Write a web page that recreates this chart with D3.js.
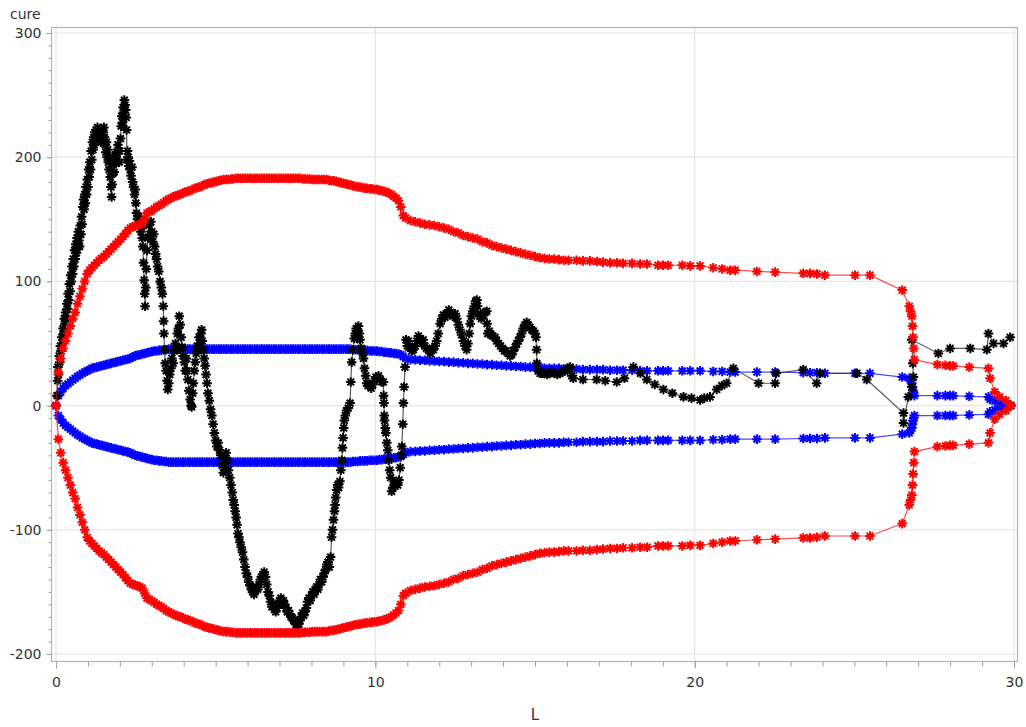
<!DOCTYPE html>
<html><head><meta charset="utf-8">
<script src="https://cdn.jsdelivr.net/npm/d3@7"></script>
<style>body{margin:0;background:#fff;} svg{display:block;font-family:"DejaVu Sans",sans-serif;}</style>
</head><body><svg id="chart" width="1026" height="727"></svg>
<script>
// ---------- data ----------
const xTicks = [0, 10, 20, 30];
const yTicks = [-200, -100, 0, 100, 200, 300];
const xLabel = "L";
const yLabel = "cure";

// shared L positions for the red and blue bands
const bandL = [
 0,0.075,0.15,0.225,0.3,0.375,0.45,0.525,0.6,0.675,
 0.75,0.825,0.9,0.975,1.05,1.125,1.2,1.275,1.35,1.425,
 1.5,1.575,1.65,1.725,1.8,1.875,1.95,2.025,2.1,2.175,
 2.25,2.325,2.4,2.475,2.55,2.625,2.7,2.775,2.85,2.925,
 3,3.075,3.15,3.225,3.3,3.375,3.45,3.525,3.6,3.675,
 3.75,3.825,3.9,3.975,4.05,4.125,4.2,4.275,4.35,4.425,
 4.5,4.575,4.65,4.725,4.8,4.875,4.95,5.025,5.1,5.175,
 5.25,5.325,5.4,5.475,5.55,5.625,5.7,5.775,5.85,5.925,
 6,6.075,6.15,6.225,6.3,6.375,6.45,6.525,6.6,6.675,
 6.75,6.825,6.9,6.975,7.05,7.125,7.2,7.275,7.35,7.425,
 7.5,7.575,7.65,7.725,7.8,7.875,7.95,8.025,8.1,8.175,
 8.25,8.325,8.4,8.475,8.55,8.625,8.7,8.775,8.85,8.925,
 9,9.075,9.15,9.225,9.3,9.375,9.45,9.525,9.6,9.675,
 9.75,9.825,9.9,9.975,10.05,10.125,10.2,10.275,10.35,10.425,
 10.5,10.575,10.65,10.725,10.8,10.875,10.95,
 11.1,11.25,11.4,11.55,11.7,11.85,12,12.15,12.3,12.45,
 12.6,12.75,12.9,13.05,13.2,13.35,13.5,13.65,13.8,13.95,
 14.1,14.25,14.4,14.55,14.7,14.85,15,15.15,15.3,15.45,
 15.6,15.75,15.9,16.05,
 16.3,16.5,16.72,16.94,17.13,17.35,17.57,17.76,18.04,18.29,
 18.51,18.85,19.01,19.17,19.61,19.86,20.17,20.58,20.86,21.11,
 21.27,21.95,22.52,23.4,23.61,23.83,24.08,25.02,25.49,26.5,
 26.72,26.76,26.8,26.82,26.84,26.86,26.88,
 27.6,27.85,28,28.1,28.6,29.2,29.25,29.4,29.55,29.75,29.9
];
const redUpper = [
 0,27,38,46,52,58,64,70,75,82,
 88,94,100,106,109,111,113,115,117,118.5,
 120,122,124,126,128,130,132,134,136,138.5,
 141,143,144,144.5,145,146,147,151,155,156,
 157,158.5,160,161,162,163.5,165,166,167,168,
 169,169.5,170,171,172,172.5,173,174,175,175.5,
 176,177,178,178.5,179,179.5,180,180.5,181,181.5,
 182,182,182,182.5,182.5,183,183,183,183,183,
 183,183,183,183,183,183,183,183,183,183,
 183,183,183,183,183,183,183,183,183,183,
 183,183,183,182.5,182.5,182.5,182.5,182,182,182,
 182,182,182,182,181.5,181,181,180.5,180,179.5,
 179,178.5,178,177.5,177,176.5,176,176,175.5,175,
 175,174.5,174.5,174,174,173.5,173,172.5,172,171,
 170,168.5,167,165,160,153,151,
 149,148,147,146,145.5,145,144,143,142,140,
 139,137,136,135,134,132,131,129,128,127,
 126,125,124,123,122,121,120,119,118.5,118,
 118,117.5,117,117,
 117,116.5,116.5,116,115.5,115,115,114.5,114.5,114,
 114,113,113,113,113,112.5,112.5,111,110,109,
 109,108,107.5,106.5,106.5,106,105,105,105,93,
 80,76,72,64,55,46,37,
 33,32.5,32,32,31,30,22,11,7,4,0
];
const redLower = [
 0,-27,-38,-46,-52,-58,-64,-70,-75,-82,
 -88,-94,-100,-106,-109,-111,-113,-115,-117,-118.5,
 -120,-122,-124,-126,-128,-130,-132,-134,-136,-138.5,
 -141,-143,-144,-144.5,-145,-146,-147,-151,-155,-156,
 -157,-158.5,-160,-161,-162,-163.5,-165,-166,-167,-168,
 -169,-169.5,-170,-171,-172,-172.5,-173,-174,-175,-175.5,
 -176,-177,-178,-178.5,-179,-179.5,-180,-180.5,-181,-181.5,
 -182,-182,-182,-182.5,-182.5,-183,-183,-183,-183,-183,
 -183,-183,-183,-183,-183,-183,-183,-183,-183,-183,
 -183,-183,-183,-183,-183,-183,-183,-183,-183,-183,
 -183,-183,-183,-182.5,-182.5,-182.5,-182.5,-182,-182,-182,
 -182,-182,-182,-182,-181.5,-181,-181,-180.5,-180,-179.5,
 -179,-178.5,-178,-177.5,-177,-176.5,-176,-176,-175.5,-175,
 -175,-174.5,-174.5,-174,-174,-173.5,-173,-172.5,-172,-171,
 -170,-168.5,-167,-165,-160,-153,-151,
 -149,-148,-147,-146,-145.5,-145,-144,-143,-142,-140,
 -139,-137,-136,-135,-134,-132,-131,-129,-128,-127,
 -126,-125,-124,-123,-122,-121,-120,-119,-118.5,-118,
 -118,-117.5,-117,-117,
 -117,-116.5,-116.5,-116,-115.5,-115,-115,-114.5,-114.5,-114,
 -114,-113,-113,-113,-113,-112.5,-112.5,-111,-110,-109,
 -109,-108,-107.5,-106.5,-106.5,-106,-105,-105,-105,-95,
 -80,-76,-72,-64,-55,-46,-37,
 -33,-32.5,-32,-32,-31,-30,-22,-11,-7,-4,0
];
const blueUpper = [
 0,8,11,14,16,17.5,19,20.5,22,23.5,
 24.5,26,27,28,29,30,30.5,31,31.5,32,
 32.5,33,33.5,34,34.5,35,35.5,36,36.5,37,
 37.5,38,39,40,40.5,41,41.5,42,42.5,43,
 43.5,44,44,44.5,44.5,45,45,45.5,45.5,45.5,
 45.5,45.5,45.5,45.5,45.5,45.5,45.5,45.5,45.5,45.5,
 45.5,45.5,45.5,45.5,45.5,45.5,45.5,45.5,45.5,45.5,
 45.5,45.5,45.5,45.5,45.5,45.5,45.5,45.5,45.5,45.5,
 45.5,45.5,45.5,45.5,45.5,45.5,45.5,45.5,45.5,45.5,
 45.5,45.5,45.5,45.5,45.5,45.5,45.5,45.5,45.5,45.5,
 45.5,45.5,45.5,45.5,45.5,45.5,45.5,45.5,45.5,45.5,
 45.5,45.5,45.5,45.5,45.5,45.5,45.5,45.5,45.5,45.5,
 45.5,45.5,45.5,45.5,45,45,45,44.5,44.5,44.5,
 44.5,44,44,44,44,43.5,43.5,43,43,42.5,
 42.5,42,42,41.5,41,39.5,38,
 37,37,36.5,36.5,36,36,35.5,35.5,35,35,
 34.5,34.5,34,34,33.5,33.5,33,33,32.5,32.5,
 32,32,31.5,31.5,31,31,30.5,30.5,30,30,
 30,30,29.5,29.5,
 29.5,29,29,29,29,28.5,28.5,28.5,28.5,28,
 28,28,28,28,28,28,28,27.5,27.5,27,
 27,27,27,26.5,26.5,26.5,26,26,26,23,
 22,20,18,15,12,10,8,
 8,8,8,8,7.5,7,5,3.5,2.5,1.5,0
];
const blueLower = [
 0,-8,-11,-14,-16,-17.5,-19,-20.5,-22,-23.5,
 -24.5,-26,-27,-28,-29,-30,-30.5,-31,-31.5,-32,
 -32.5,-33,-33.5,-34,-34.5,-35,-35.5,-36,-36.5,-37,
 -37.5,-38,-39,-40,-40.5,-41,-41.5,-42,-42.5,-43,
 -43.5,-44,-44,-44.5,-44.5,-45,-45,-45.5,-45.5,-45.5,
 -45.5,-45.5,-45.5,-45.5,-45.5,-45.5,-45.5,-45.5,-45.5,-45.5,
 -45.5,-45.5,-45.5,-45.5,-45.5,-45.5,-45.5,-45.5,-45.5,-45.5,
 -45.5,-45.5,-45.5,-45.5,-45.5,-45.5,-45.5,-45.5,-45.5,-45.5,
 -45.5,-45.5,-45.5,-45.5,-45.5,-45.5,-45.5,-45.5,-45.5,-45.5,
 -45.5,-45.5,-45.5,-45.5,-45.5,-45.5,-45.5,-45.5,-45.5,-45.5,
 -45.5,-45.5,-45.5,-45.5,-45.5,-45.5,-45.5,-45.5,-45.5,-45.5,
 -45.5,-45.5,-45.5,-45.5,-45.5,-45.5,-45.5,-45.5,-45.5,-45.5,
 -45.5,-45.5,-45.5,-45.5,-45,-45,-45,-44.5,-44.5,-44.5,
 -44.5,-44,-44,-44,-44,-43.5,-43.5,-43,-43,-42.5,
 -42.5,-42,-42,-41.5,-41,-39.5,-38,
 -37,-37,-36.5,-36.5,-36,-36,-35.5,-35.5,-35,-35,
 -34.5,-34.5,-34,-34,-33.5,-33.5,-33,-33,-32.5,-32.5,
 -32,-32,-31.5,-31.5,-31,-31,-30.5,-30.5,-30,-30,
 -30,-30,-29.5,-29.5,
 -29.5,-29,-29,-29,-29,-28.5,-28.5,-28.5,-28.5,-28,
 -28,-28,-28,-28,-28,-28,-28,-27.5,-27.5,-27,
 -27,-27,-27,-26.5,-26.5,-26.5,-26,-26,-26,-23,
 -22,-20,-18,-15,-12,-10,-8,
 -8,-8,-8,-8,-7.5,-7,-5,-3.5,-2.5,-1.5,0
];

// the "cure" series as [L, cure] points, in drawing order
const cure = [
 [0.03,8],[0.05,20],[0.06,31],[0.08,25],[0.1,40],[0.12,35],[0.14,48],[0.16,44],[0.18,55],[0.2,50],
 [0.22,62],[0.24,58],[0.26,70],[0.28,66],[0.3,75],[0.32,70],[0.34,82],[0.36,78],[0.38,90],[0.4,85],
 [0.42,98],[0.44,92],[0.46,105],[0.48,100],[0.5,112],[0.52,106],[0.54,118],[0.56,112],[0.58,125],[0.6,118],
 [0.62,130],[0.64,123],[0.66,135],[0.68,128],[0.7,140],[0.72,133],[0.74,128],[0.76,145],[0.78,138],[0.8,152],
 [0.82,146],[0.84,160],[0.86,166],[0.88,158],[0.9,170],[0.92,163],[0.94,176],[0.96,170],[0.98,182],[1.0,176],
 [1.02,190],[1.04,184],[1.06,196],[1.08,190],[1.1,205],[1.12,198],[1.14,212],[1.16,206],[1.18,216],[1.2,210],
 [1.22,220],[1.24,214],[1.26,222],[1.28,216],[1.3,224],[1.32,218],[1.34,222],[1.36,214],[1.38,220],[1.4,212],
 [1.42,218],[1.44,222],[1.46,215],[1.48,220],[1.5,224],[1.52,216],[1.54,210],[1.56,204],[1.58,212],[1.6,200],
 [1.62,206],[1.64,196],[1.66,190],[1.68,200],[1.7,184],[1.72,176],[1.74,168],[1.76,178],[1.78,187],[1.8,195],
 [1.82,188],[1.84,196],[1.86,202],[1.88,195],[1.9,204],[1.92,198],[1.94,210],[1.96,205],[1.98,196],[2.0,205],
 [2.02,215],[2.04,225],[2.06,233],[2.08,228],[2.1,240],[2.12,236],[2.14,246],[2.16,242],[2.18,238],[2.2,232],
 [2.21,222],[2.22,198],[2.24,205],[2.26,200],[2.28,193],[2.3,197],[2.32,190],[2.35,185],[2.38,192],[2.4,180],
 [2.43,176],[2.46,170],[2.48,174],[2.5,163],[2.52,155],[2.55,150],[2.58,152],[2.6,146],[2.63,150],[2.66,140],
 [2.68,144],[2.7,135],[2.72,128],[2.74,115],[2.76,101],[2.78,90],[2.79,80],[2.81,95],[2.83,110],[2.85,125],
 [2.88,135],[2.91,145],[2.94,138],[2.97,148],[3.0,140],[3.03,132],[3.06,138],[3.09,128],[3.12,122],[3.15,118],
 [3.18,112],[3.22,108],[3.26,100],[3.3,95],[3.33,90],[3.36,80],[3.37,68],[3.38,58],[3.4,45],[3.42,34],
 [3.45,28],[3.48,20],[3.5,13],[3.53,18],[3.56,25],[3.6,30],[3.63,38],[3.67,34],[3.7,44],[3.74,50],
 [3.78,45],[3.8,58],[3.83,62],[3.86,72],[3.89,65],[3.92,55],[3.95,47],[3.98,40],[4.02,35],[4.05,28],
 [4.08,38],[4.1,28],[4.13,21],[4.16,12],[4.2,5],[4.23,0],[4.25,-1],[4.28,10],[4.3,18],[4.33,28],
 [4.36,35],[4.39,42],[4.42,48],[4.45,45],[4.48,55],[4.51,50],[4.54,58],[4.56,61],[4.58,52],[4.61,45],
 [4.64,38],[4.67,32],[4.7,25],[4.73,18],[4.76,10],[4.8,4],[4.84,-3],[4.88,-8],[4.92,-15],[4.96,-22],
 [5.0,-28],[5.04,-33],[5.08,-30],[5.12,-36],[5.16,-40],[5.2,-48],[5.24,-54],[5.27,-47],[5.3,-42],[5.33,-38],
 [5.36,-44],[5.4,-52],[5.44,-58],[5.48,-64],[5.52,-70],[5.55,-76],[5.58,-80],[5.61,-85],[5.64,-90],[5.67,-96],
 [5.7,-103],[5.73,-106],[5.76,-110],[5.8,-114],[5.84,-118],[5.88,-124],[5.92,-130],[5.96,-135],[6.0,-138],[6.04,-142],
 [6.08,-145],[6.12,-148],[6.16,-150],[6.2,-152],[6.24,-149],[6.28,-146],[6.32,-148],[6.36,-144],[6.4,-140],[6.44,-138],
 [6.48,-136],[6.52,-134],[6.56,-138],[6.6,-144],[6.64,-150],[6.68,-153],[6.72,-158],[6.76,-162],[6.8,-160],[6.84,-164],
 [6.88,-166],[6.92,-163],[6.96,-160],[7.0,-157],[7.04,-155],[7.08,-158],[7.12,-157],[7.16,-160],[7.2,-163],[7.24,-166],
 [7.28,-165],[7.32,-168],[7.36,-170],[7.4,-171],[7.44,-173],[7.48,-174],[7.52,-176],[7.56,-178],[7.6,-176],[7.64,-173],
 [7.68,-170],[7.72,-167],[7.76,-169],[7.8,-166],[7.84,-163],[7.88,-158],[7.92,-155],[7.96,-157],[8.0,-153],[8.04,-150],
 [8.08,-152],[8.12,-148],[8.16,-146],[8.2,-148],[8.24,-144],[8.28,-140],[8.32,-142],[8.36,-138],[8.4,-135],[8.44,-132],
 [8.48,-128],[8.52,-126],[8.56,-130],[8.6,-122],[8.63,-106],[8.66,-100],[8.69,-92],[8.72,-85],[8.74,-80],[8.76,-74],
 [8.79,-68],[8.82,-64],[8.85,-66],[8.89,-61],[8.92,-52],[8.95,-44],[8.97,-34],[8.99,-26],[9.01,-18],[9.03,-12],
 [9.06,-8],[9.1,-4],[9.15,-2],[9.21,2],[9.23,19],[9.26,35],[9.3,45],[9.34,54],[9.37,58],[9.4,62],
 [9.44,60],[9.47,64],[9.5,58],[9.52,53],[9.56,46],[9.6,42],[9.63,38],[9.66,30],[9.7,24],[9.73,18],
 [9.77,16],[9.82,17],[9.87,14],[9.92,17],[9.97,20],[10.02,23],[10.06,22],[10.1,24],[10.15,21],[10.2,19],
 [10.25,19],[10.26,8],[10.27,2],[10.28,-8],[10.29,-12],[10.31,-18],[10.33,-22],[10.36,-30],[10.39,-36],[10.42,-44],
 [10.45,-52],[10.48,-58],[10.51,-69],[10.55,-66],[10.6,-62],[10.65,-63],[10.7,-64],[10.74,-60],[10.78,-50],[10.81,-40],
 [10.83,-33],[10.86,-15],[10.88,2],[10.9,15],[10.93,31],[10.96,53],[11.0,48],[11.04,52],[11.09,47],[11.14,44],
 [11.19,45],[11.25,48],[11.3,52],[11.35,56],[11.4,54],[11.45,50],[11.5,53],[11.55,48],[11.6,46],[11.66,45],
 [11.72,42],[11.78,46],[11.82,45],[11.87,48],[11.92,52],[11.97,58],[12.03,66],[12.08,70],[12.13,73],[12.18,71],
 [12.24,74],[12.3,77],[12.36,75],[12.42,72],[12.5,74],[12.55,70],[12.6,65],[12.65,61],[12.7,57],[12.76,52],
 [12.81,48],[12.86,45],[12.9,50],[12.94,58],[12.97,66],[13.01,72],[13.05,76],[13.1,80],[13.14,84],[13.18,85],
 [13.2,80],[13.22,74],[13.27,72],[13.32,70],[13.38,73],[13.44,75],[13.49,76],[13.5,66],[13.52,58],[13.57,60],
 [13.62,57],[13.68,56],[13.75,55],[13.8,52],[13.86,50],[13.92,48],[13.98,46],[14.04,44],[14.1,44],[14.16,42],
 [14.22,40],[14.27,41],[14.32,44],[14.38,47],[14.43,50],[14.48,52],[14.53,55],[14.58,58],[14.63,62],[14.68,65],
 [14.74,67],[14.79,65],[14.84,63],[14.9,61],[14.95,60],[15.0,58],[15.03,55],[15.05,45],[15.06,34],[15.1,28],
 [15.16,26],[15.22,26],[15.3,26],[15.38,25],[15.45,26],[15.52,27],[15.6,26],[15.7,25],[15.78,26],[15.85,27],
 [15.92,28],[15.99,29],[16.05,30],[16.1,31],[16.15,24],[16.2,22],[16.5,21],[16.93,21],[17.2,20],[17.56,19],
 [17.8,22],[18.08,31],[18.3,26],[18.5,21],[18.75,17],[19.02,13],[19.3,10],[19.65,7],[19.9,6],[20.17,4.5],
 [20.3,6],[20.48,7],[20.69,13],[20.85,16],[21.0,18],[21.21,30],[22.0,18],[22.52,18],[22.55,26],[23.4,29],
 [23.82,18],[23.93,26],[25.08,26],[25.39,21],[26.54,-6],[26.54,-14],[26.69,7],[26.8,15],[26.85,23],[26.83,34],
 [26.8,53],[27.63,42],[28.0,46],[28.63,46],[29.15,45],[29.2,58],[29.36,50],[29.67,50],[29.88,55]
];

// ---------- drawing ----------
const frame = {left: 51, top: 27, right: 1017, bottom: 661};
const svg = d3.select("#chart");
const x = d3.scaleLinear().domain([0, 30]).range([56, 1014]);
const y = d3.scaleLinear().domain([-200, 300]).range([654, 33]);

// grid
const grid = svg.append("g");
grid.selectAll("line.gx").data(xTicks).join("line")
  .attr("x1", d => x(d)).attr("x2", d => x(d))
  .attr("y1", frame.top).attr("y2", frame.bottom)
  .attr("stroke", "#e6e6e6").attr("stroke-width", 1.2);
grid.selectAll("line.gy").data(yTicks).join("line")
  .attr("x1", frame.left).attr("x2", frame.right)
  .attr("y1", d => y(d)).attr("y2", d => y(d))
  .attr("stroke", "#e6e6e6").attr("stroke-width", 1.2);

// frame
svg.append("rect").attr("x", frame.left + 0.5).attr("y", frame.top + 0.5)
  .attr("width", frame.right - frame.left).attr("height", frame.bottom - frame.top)
  .attr("fill", "none").attr("stroke", "#b4b4b4").attr("stroke-width", 1.2);

// axes
const minorX = d3.range(0, 31, 1), minorY = d3.range(-200, 301, 10);
const fmt = d => String(d);
function styleAxis(g) {
  g.select(".domain").remove();
  g.selectAll(".tick line").attr("stroke", "#a0a0a0");
  g.selectAll(".tick text").attr("fill", "#333").style("font-size", "14px")
    .style("font-family", '"DejaVu Sans", sans-serif');
}
svg.append("g").attr("transform", `translate(0,${frame.bottom + 0.5})`)
  .call(d3.axisBottom(x).tickValues(minorX).tickSize(5).tickFormat("")).call(styleAxis);
svg.append("g").attr("transform", `translate(0,${frame.bottom + 0.5})`)
  .call(d3.axisBottom(x).tickValues(xTicks).tickSize(7).tickPadding(9).tickFormat(fmt)).call(styleAxis);
svg.append("g").attr("transform", `translate(${frame.left + 0.5},0)`)
  .call(d3.axisLeft(y).tickValues(minorY).tickSize(3).tickFormat("")).call(styleAxis);
svg.append("g").attr("transform", `translate(${frame.left + 0.5},0)`)
  .call(d3.axisLeft(y).tickValues(yTicks).tickSize(5).tickPadding(5).tickFormat(fmt)).call(styleAxis);

svg.append("text").attr("x", 535).attr("y", 720).attr("text-anchor", "middle")
  .attr("fill", "#333").style("font-size", "15px").text(xLabel);
svg.append("text").attr("x", 10).attr("y", 19).attr("text-anchor", "start")
  .attr("fill", "#333").style("font-size", "14px").text(yLabel);

// series
const star = "M-4.8,0H4.8M0,-4.8V4.8M-3.4,-3.4L3.4,3.4M-3.4,3.4L3.4,-3.4";
const plot = svg.append("g");
function drawSeries(pts, color, lineColor, lineOpacity) {
  const line = d3.line().x(d => x(d[0])).y(d => y(d[1]));
  const g = plot.append("g");
  g.append("path").attr("d", line(pts)).attr("fill", "none")
    .attr("stroke", lineColor).attr("stroke-width", 1.2).attr("stroke-opacity", lineOpacity);
  g.selectAll("path.m").data(pts).join("path").attr("class", "m")
    .attr("transform", d => `translate(${x(d[0])},${y(d[1])})`)
    .attr("d", star).attr("fill", "none").attr("stroke", color)
    .attr("stroke-width", 2);
}
const zip = (xs, ys) => xs.map((l, i) => [l, ys[i]]).filter(p => p[1] !== undefined);
drawSeries(zip(bandL, blueUpper), "#0000ff", "#0000ff", 0.7);
drawSeries(zip(bandL, blueLower), "#0000ff", "#0000ff", 0.7);
drawSeries(cure, "#000", "#333", 0.8);
drawSeries(zip(bandL, redUpper), "#ff0000", "#ff0000", 0.7);
drawSeries(zip(bandL, redLower), "#ff0000", "#ff0000", 0.7);
</script>
</body></html>
